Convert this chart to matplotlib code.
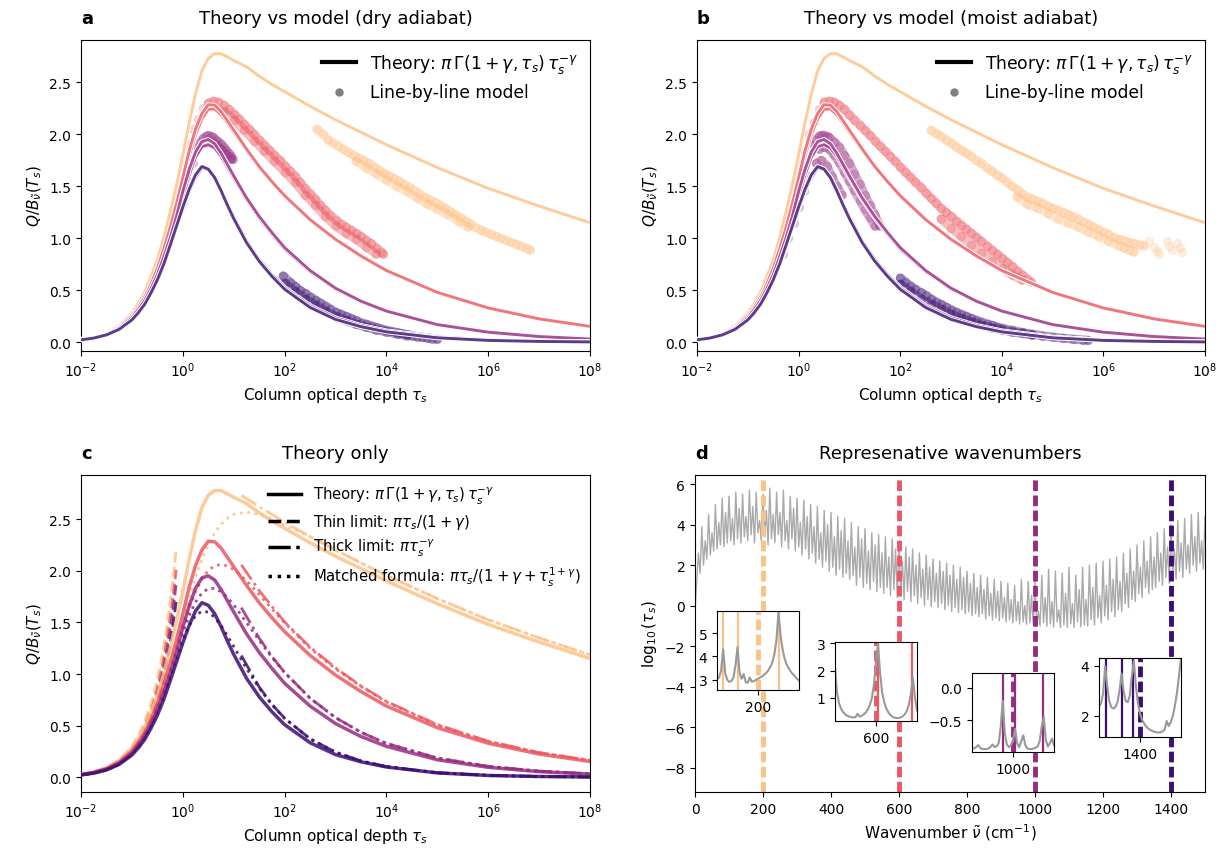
import numpy as np
import matplotlib
matplotlib.use("Agg")
import matplotlib.pyplot as plt
from matplotlib.lines import Line2D
import matplotlib.patheffects as pe

# ---------------- data ----------------
wavenumbers = [200, 600, 1000, 1400]

logtau = [-2, -1.75, -1.5, -1.25, -1, -0.875, -0.75, -0.625, -0.5, -0.375, -0.25, -0.125, 0,
          0.125, 0.25, 0.375, 0.5, 0.625, 0.75, 0.875, 1.0, 1.25, 1.5, 1.75, 2, 2.5, 3, 3.5,
          4, 5, 6, 7, 8]
theory_200 = [0.030, 0.0526, 0.092, 0.163, 0.28, 0.372, 0.48, 0.628, 0.79, 1.0, 1.25, 1.51,
              1.80, 2.11, 2.39, 2.61, 2.73, 2.775, 2.775, 2.745, 2.71, 2.65, 2.56, 2.48, 2.41,
              2.27, 2.14, 2.02, 1.90, 1.68, 1.48, 1.31, 1.15]
theory_600 = [0.027, 0.0477, 0.084, 0.148, 0.255, 0.337, 0.43, 0.558, 0.71, 0.894, 1.10, 1.33,
              1.58, 1.84, 2.05, 2.20, 2.285, 2.28, 2.22, 2.13, 2.04, 1.86, 1.69, 1.545, 1.41,
              1.18, 0.99, 0.83, 0.69, 0.48, 0.33, 0.225, 0.153]
theory_1000 = [0.025, 0.0444, 0.078, 0.1375, 0.235, 0.313, 0.40, 0.515, 0.65, 0.818, 1.0, 1.21,
               1.45, 1.66, 1.83, 1.93, 1.95, 1.91, 1.82, 1.71, 1.60, 1.39, 1.21, 1.055, 0.91,
               0.69, 0.52, 0.395, 0.30, 0.17, 0.097, 0.055, 0.031]
theory_1400 = [0.023, 0.0404, 0.071, 0.1248, 0.215, 0.2834, 0.365, 0.475, 0.60, 0.751, 0.93,
               1.115, 1.30, 1.47, 1.61, 1.69, 1.665, 1.585, 1.46, 1.32, 1.19, 0.96, 0.78, 0.635,
               0.51, 0.335, 0.22, 0.15, 0.10, 0.043, 0.018, 0.008, 0.0035]
# second set of theory curves visible in panels a and b
theory_600_b = [0.026, 0.046, 0.081, 0.143, 0.247, 0.326, 0.417, 0.541, 0.69, 0.868, 1.07, 1.29,
                1.54, 1.79, 2.00, 2.15, 2.24, 2.245, 2.19, 2.11, 2.02, 1.85, 1.685, 1.54, 1.405,
                1.175, 0.985, 0.825, 0.685, 0.477, 0.328, 0.224, 0.152]
theory_1000_b = [0.025, 0.043, 0.075, 0.132, 0.228, 0.303, 0.39, 0.502, 0.635, 0.80, 0.98, 1.18,
                 1.40, 1.61, 1.78, 1.88, 1.90, 1.87, 1.79, 1.685, 1.58, 1.375, 1.195, 1.04,
                 0.895, 0.678, 0.512, 0.39, 0.297, 0.168, 0.096, 0.054, 0.03]
theory_1400_b = [0.023, 0.040, 0.070, 0.123, 0.212, 0.28, 0.36, 0.468, 0.59, 0.738, 0.915, 1.10,
                 1.28, 1.45, 1.59, 1.675, 1.66, 1.585, 1.465, 1.33, 1.205, 0.975, 0.795, 0.65,
                 0.525, 0.35, 0.235, 0.162, 0.11, 0.05, 0.022, 0.01, 0.005]

logtau_thin = [-2, -1.75, -1.5, -1.25, -1, -0.8, -0.6, -0.5, -0.4, -0.3, -0.2, -0.13]
thin_200 = [0.0298, 0.0531, 0.0943, 0.1678, 0.2984, 0.4729, 0.7494, 0.9434, 1.1878, 1.4953,
            1.8825, 2.2117]
thin_600 = [0.0271, 0.0482, 0.0856, 0.1523, 0.2708, 0.4292, 0.6803, 0.8564, 1.0782, 1.3573,
            1.7089, 2.0077]
thin_1000 = [0.0252, 0.0449, 0.0798, 0.1419, 0.2523, 0.3999, 0.6338, 0.7979, 1.0046, 1.2647,
             1.5922, 1.8706]
thin_1400 = [0.0229, 0.0408, 0.0725, 0.1289, 0.2293, 0.3634, 0.576, 0.7251, 0.9129, 1.1493,
             1.447, 1.6999]

logtau_thick = [1.15, 1.5, 1.75, 2, 2.5, 3, 3.5, 4, 5, 6, 7, 8]
thick_200 = [2.73, 2.62, 2.545, 2.47, 2.33, 2.20, 2.075, 1.955, 1.73, 1.525, 1.35, 1.185]
thick_600 = [2.056, 1.808, 1.655, 1.5035, 1.26, 1.06, 0.885, 0.735, 0.51, 0.35, 0.24, 0.165]
thick_1000 = [1.642, 1.348, 1.17, 1.0166, 0.7667, 0.5782, 0.4361, 0.3289, 0.1872, 0.1065,
              0.0606, 0.0345]
thick_1400 = [1.179, 0.875, 0.7074, 0.5718, 0.3736, 0.2439, 0.1593, 0.104, 0.0444, 0.0189,
              0.0081, 0.0035]

matched_200 = [0.0296, 0.0523, 0.092, 0.1604, 0.2752, 0.3573, 0.4596, 0.5853, 0.7356, 0.91,
               1.105, 1.315, 1.530, 1.7405, 1.9353, 2.107, 2.2506, 2.3636, 2.4484, 2.5067,
               2.544, 2.567, 2.545, 2.50, 2.44, 2.33, 2.20, 2.075, 1.955, 1.73, 1.525, 1.35, 1.185]
matched_600 = [0.027, 0.0478, 0.0843, 0.1478, 0.2556, 0.3335, 0.4314, 0.5525, 0.6981, 0.8674,
               1.056, 1.2556, 1.4544, 1.6388, 1.7962, 1.9186, 2.0021, 2.0476, 2.0605, 2.0462,
               2.012, 1.904, 1.770, 1.631, 1.4956, 1.25, 1.05, 0.88, 0.73, 0.505, 0.347, 0.239,
               0.164]
matched_1000 = [0.0252, 0.0446, 0.0789, 0.1388, 0.2413, 0.316, 0.4103, 0.5277, 0.6696, 0.8351,
                1.0191, 1.2119, 1.3994, 1.5656, 1.6966, 1.7842, 1.8269, 1.8283, 1.797, 1.741,
                1.6689, 1.500, 1.3254, 1.1614, 1.0124, 0.7658, 0.5775, 0.436, 0.3288, 0.1872,
                0.1065, 0.0606, 0.0345]
matched_1400 = [0.0229, 0.0407, 0.072, 0.1271, 0.2224, 0.2924, 0.3816, 0.4936, 0.6301, 0.7903,
                0.9683, 1.1524, 1.3256, 1.4682, 1.5646, 1.6075, 1.5993, 1.5487, 1.4693, 1.3716,
                1.2663, 1.0549, 0.8648, 0.7035, 0.5702, 0.373, 0.2439, 0.1593, 0.104, 0.0444,
                0.0189, 0.0081, 0.0035]

# line-by-line model points, panel a (dry adiabat): strands of (log10 tau, Q)
dry_200_main_L = [2.63, 2.75, 2.85, 2.95, 3.05, 3.15, 3.25, 3.35, 3.45, 3.55, 3.65, 3.75, 3.85,
                  3.95, 4.05, 4.15, 4.25, 4.35, 4.45, 4.55, 4.65, 4.75, 4.85, 4.95, 5.05, 5.15,
                  5.25, 5.35, 5.45, 5.55, 5.65, 5.75, 5.85, 5.95, 6.05, 6.15, 6.25, 6.35, 6.45,
                  6.55, 6.65, 6.75, 6.82]
dry_200_main_Q = [2.05, 2.00, 1.95, 1.92, 1.89, 1.86, 1.83, 1.80, 1.775, 1.75, 1.72, 1.69, 1.66,
                  1.63, 1.60, 1.575, 1.55, 1.52, 1.49, 1.46, 1.43, 1.40, 1.37, 1.345, 1.32, 1.29,
                  1.26, 1.23, 1.20, 1.17, 1.14, 1.105, 1.08, 1.06, 1.04, 1.02, 1.00, 0.98, 0.96,
                  0.945, 0.925, 0.905, 0.89]
dry_200_low_L = [3.4, 3.6, 3.8, 4.0, 4.2, 4.4, 4.6, 4.8, 5.0, 5.2, 5.4, 5.6]
dry_200_low_Q = [1.74, 1.68, 1.62, 1.56, 1.50, 1.45, 1.39, 1.33, 1.28, 1.23, 1.17, 1.11]
dry_600_rise_L = [0.0, 0.1, 0.2, 0.3, 0.4]
dry_600_rise_Q = [1.75, 1.9, 2.05, 2.15, 2.25]
dry_600_main_L = [0.5, 0.6, 0.7, 0.8, 0.9, 1.0, 1.1, 1.2, 1.3, 1.4, 1.5, 1.6, 1.7, 1.8, 1.9, 2.0,
                  2.1, 2.2, 2.3, 2.4, 2.5, 2.6, 2.7, 2.8, 2.9, 3.0, 3.1, 3.2, 3.3, 3.4, 3.5, 3.6,
                  3.7, 3.8, 3.9, 3.94]
dry_600_main_Q = [2.30, 2.32, 2.31, 2.28, 2.24, 2.20, 2.15, 2.10, 2.05, 2.0, 1.95, 1.90, 1.85,
                  1.80, 1.75, 1.70, 1.65, 1.60, 1.54, 1.48, 1.43, 1.38, 1.32, 1.27, 1.22, 1.18,
                  1.14, 1.11, 1.08, 1.05, 1.02, 0.98, 0.95, 0.91, 0.87, 0.85]
dry_600_low_L = [0.8, 1.0, 1.2, 1.4, 1.6, 1.8, 2.0, 2.2, 2.4, 2.6, 2.8, 3.0, 3.2, 3.4, 3.6, 3.8]
dry_600_low_Q = [2.22, 2.14, 2.04, 1.94, 1.84, 1.74, 1.64, 1.54, 1.42, 1.32, 1.21, 1.12, 1.05,
                 0.99, 0.92, 0.85]
dry_1000_rise_L = [0.0, 0.1, 0.2]
dry_1000_rise_Q = [1.35, 1.55, 1.72]
dry_1000_main_L = [0.3, 0.35, 0.4, 0.45, 0.5, 0.55, 0.6, 0.65, 0.7, 0.75, 0.8, 0.85, 0.9, 0.95,
                   0.98]
dry_1000_main_Q = [1.88, 1.93, 1.96, 1.98, 1.99, 1.98, 1.97, 1.95, 1.93, 1.91, 1.88, 1.85, 1.82,
                   1.79, 1.76]
dry_1000_low_L = [0.45, 0.55, 0.65, 0.75, 0.85, 0.95]
dry_1000_low_Q = [1.92, 1.93, 1.90, 1.86, 1.81, 1.76]
dry_1400_main_L = [1.97, 2.1, 2.2, 2.3, 2.4, 2.5, 2.6, 2.7, 2.8, 2.9, 3.0, 3.1, 3.2, 3.3, 3.4,
                   3.5, 3.6, 3.7, 3.8, 3.9, 4.0, 4.1, 4.2, 4.3, 4.4, 4.5, 4.6, 4.7, 4.8, 4.9, 5.0]
dry_1400_main_Q = [0.64, 0.58, 0.54, 0.50, 0.47, 0.44, 0.41, 0.38, 0.35, 0.32, 0.29, 0.27, 0.25,
                   0.23, 0.21, 0.19, 0.175, 0.16, 0.145, 0.13, 0.115, 0.105, 0.095, 0.085, 0.075,
                   0.065, 0.055, 0.048, 0.042, 0.036, 0.03]
dry_1400_low_L = [2.0, 2.2, 2.4, 2.6, 2.8, 3.0, 3.2, 3.4, 3.6, 3.8, 4.0, 4.2, 4.4]
dry_1400_low_Q = [0.57, 0.49, 0.42, 0.36, 0.30, 0.25, 0.21, 0.175, 0.145, 0.12, 0.10, 0.08, 0.065]

# line-by-line model points, panel b (moist adiabat)
moist_200_main_L = [2.6, 2.7, 2.8, 2.9, 3.0, 3.1, 3.2, 3.3, 3.4, 3.5, 3.6, 3.7, 3.8, 3.9, 4.0,
                    4.1, 4.2, 4.3, 4.4, 4.5, 4.6, 4.7, 4.8, 4.9, 5.0, 5.1, 5.2, 5.3, 5.4, 5.5,
                    5.6, 5.7, 5.8, 5.9, 6.0, 6.1, 6.2, 6.3, 6.4, 6.5, 6.6, 6.7, 6.8]
moist_200_main_Q = [2.04, 2.01, 1.98, 1.95, 1.92, 1.88, 1.85, 1.82, 1.79, 1.75, 1.72, 1.68,
                    1.65, 1.61, 1.58, 1.54, 1.5, 1.47, 1.43, 1.40, 1.38, 1.36, 1.34, 1.31, 1.29,
                    1.27, 1.25, 1.23, 1.21, 1.19, 1.16, 1.14, 1.11, 1.09, 1.06, 1.04, 1.01, 0.99,
                    0.98, 0.96, 0.95, 0.94, 0.93]
moist_200_low_L = [4.3, 4.5, 4.7, 4.9, 5.1, 5.3, 5.5, 5.7, 5.9, 6.1, 6.3, 6.4, 6.5, 6.6]
moist_200_low_Q = [1.40, 1.33, 1.29, 1.24, 1.19, 1.15, 1.11, 1.06, 1.02, 0.97, 0.93, 0.91,
                   0.89, 0.87]
moist_200_frag_L = [6.9, 7.0, 7.05, 7.1, 7.25, 7.3, 7.35, 7.45, 7.5, 7.55]
moist_200_frag_Q = [0.97, 0.92, 0.88, 0.85, 0.97, 0.93, 0.89, 0.95, 0.91, 0.87]
moist_600_rise_L = [0.0, 0.1, 0.2, 0.3, 0.4]
moist_600_rise_Q = [1.7, 1.85, 2.0, 2.12, 2.24]
moist_600_main_L = [0.5, 0.6, 0.7, 0.8, 0.9, 1.0, 1.1, 1.2, 1.3, 1.4, 1.5, 1.6, 1.7, 1.8, 1.9,
                    2.0, 2.1, 2.2, 2.3, 2.4, 2.5, 2.6, 2.7, 2.8, 2.9, 3.0, 3.1, 3.2, 3.3, 3.4,
                    3.5, 3.6, 3.7, 3.8, 3.9, 4.0, 4.1, 4.2, 4.3, 4.4, 4.5, 4.58]
moist_600_main_Q = [2.31, 2.32, 2.31, 2.28, 2.24, 2.19, 2.14, 2.09, 2.04, 1.99, 1.94, 1.89,
                    1.84, 1.79, 1.74, 1.69, 1.64, 1.59, 1.54, 1.49, 1.44, 1.39, 1.34, 1.29, 1.25,
                    1.21, 1.17, 1.13, 1.09, 1.05, 1.01, 0.97, 0.93, 0.89, 0.85, 0.81, 0.77, 0.73,
                    0.69, 0.65, 0.61, 0.58]
moist_600_low_L = [2.8, 3.0, 3.2, 3.4, 3.6, 3.8, 4.0, 4.2, 4.4]
moist_600_low_Q = [1.19, 1.10, 1.02, 0.94, 0.86, 0.78, 0.71, 0.65, 0.60]
moist_1000_rise_L = [-0.3, -0.2, -0.1, 0.0, 0.1, 0.2]
moist_1000_rise_Q = [0.85, 1.0, 1.15, 1.3, 1.45, 1.6]
moist_1000_main_L = [0.3, 0.35, 0.4, 0.45, 0.5, 0.55, 0.6, 0.7, 0.8, 0.9, 1.0, 1.1, 1.2, 1.3,
                     1.4, 1.5, 1.6]
moist_1000_main_Q = [1.9, 1.95, 1.98, 1.99, 1.99, 1.98, 1.97, 1.93, 1.88, 1.80, 1.72, 1.62,
                     1.52, 1.42, 1.32, 1.22, 1.12]
moist_1000_low_L = [0.4, 0.5, 0.6, 0.7, 0.8, 0.9, 1.0, 1.1, 1.2, 1.3, 1.4, 1.5]
moist_1000_low_Q = [1.86, 1.88, 1.86, 1.80, 1.73, 1.64, 1.55, 1.46, 1.37, 1.28, 1.2, 1.12]
moist_1000_core_L = [0.35, 0.45, 0.55, 0.65, 0.75, 0.85]
moist_1000_core_Q = [1.72, 1.75, 1.70, 1.60, 1.50, 1.42]
moist_1400_main_L = [2.0, 2.1, 2.2, 2.3, 2.4, 2.5, 2.6, 2.7, 2.8, 2.9, 3.0, 3.1, 3.2, 3.3, 3.4,
                     3.5, 3.6, 3.7, 3.8, 3.9, 4.0, 4.2, 4.4, 4.6, 4.8, 5.0, 5.2, 5.4, 5.6, 5.7]
moist_1400_main_Q = [0.62, 0.58, 0.545, 0.51, 0.48, 0.45, 0.42, 0.39, 0.365, 0.34, 0.315, 0.29,
                     0.27, 0.25, 0.23, 0.21, 0.195, 0.18, 0.165, 0.15, 0.135, 0.115, 0.095,
                     0.078, 0.063, 0.05, 0.04, 0.03, 0.022, 0.02]
moist_1400_low_L = [2.0, 2.2, 2.4, 2.6, 2.8, 3.0, 3.2, 3.4, 3.6, 3.8, 4.0, 4.2, 4.4, 4.6]
moist_1400_low_Q = [0.56, 0.49, 0.42, 0.37, 0.32, 0.27, 0.23, 0.195, 0.165, 0.14, 0.12, 0.10,
                    0.085, 0.07]

# spectrum log10(tau_s), every 5 cm-1 from 0 to 1500
spec_nu_step = 5
spectrum = [
    -0.3, 1.2, 2.6, 1.6, 3.9, 2.0, 3.2, 2.3, 4.5, 2.5,
    3.6, 2.7, 5.0, 2.8, 4.1, 3.0, 5.3, 2.9, 4.6, 3.1,
    5.4, 3.2, 4.3, 3.0, 5.6, 3.3, 4.8, 3.1, 5.5, 3.4,
    4.4, 3.2, 5.7, 3.5, 4.9, 3.1, 5.6, 3.6, 4.2, 3.2,
    5.5, 3.4, 4.7, 3.0, 5.8, 3.3, 4.5, 3.1, 5.6, 3.5,
    4.6, 2.9, 5.7, 3.2, 4.2, 2.8, 5.4, 3.3, 4.8, 2.7,
    5.3, 2.9, 4.1, 2.5, 5.2, 2.8, 4.4, 2.3, 5.0, 2.6,
    3.9, 2.1, 4.9, 2.3, 3.6, 1.9, 4.7, 2.2, 4.0, 1.7,
    4.6, 1.9, 3.4, 1.5, 4.4, 1.8, 3.7, 1.4, 4.3, 1.6,
    3.2, 1.3, 4.1, 1.5, 2.9, 1.0, 3.9, 1.4, 3.3, 0.9,
    3.8, 1.1, 2.7, 0.8, 3.6, 1.2, 3.0, 0.7, 3.5, 0.9,
    2.6, 0.6, 3.4, 0.9, 2.4, 0.5, 3.3, 0.8, 2.8, 0.4,
    3.1, 0.6, 2.2, 0.3, 2.9, 0.7, 2.4, 0.2, 2.8, 0.5,
    2.0, 0.1, 2.6, 0.4, 1.8, 0.0, 2.5, 0.3, 1.9, -0.05,
    2.3, 0.2, 1.6, -0.1, 2.2, 0.1, 1.7, -0.2, 2.1, 0.0,
    1.5, -0.3, 2.0, -0.1, 1.3, -0.35, 1.9, -0.2, 1.4, -0.4,
    1.7, -0.3, 1.1, -0.5, 1.6, -0.4, 0.9, -0.55, 1.5, -0.4,
    0.8, -0.65, 1.4, -0.5, 0.6, -0.7, 1.3, -0.6, 0.7, -0.75,
    1.2, -0.6, 0.4, -0.8, 1.1, -0.7, 0.3, -0.85, 1.0, -0.75,
    0.2, -0.9, 1.3, -0.8, 0.0, -0.92, 1.2, -0.85, 0.5, -0.95,
    1.3, -0.9, -0.3, -1.0, 1.5, -0.85, 0.4, -1.02, 1.8, -0.9,
    0.2, -1.05, 1.7, -0.8, -0.2, -1.08, 1.6, -0.95, 0.6, -1.07,
    1.9, -0.9, 0.1, -1.08, 1.5, -0.8, 0.8, -1.05, 1.9, -0.95,
    0.3, -1.0, 2.0, -0.7, 0.9, -0.95, 2.1, -0.6, 0.5, -0.85,
    2.2, -0.5, 1.0, -0.7, 2.3, -0.3, 1.3, -0.55, 2.4, -0.2,
    1.2, -0.3, 2.6, 0.1, 1.6, -0.1, 2.8, 0.3, 1.7, 0.2,
    3.0, 0.6, 1.9, 0.4, 3.2, 0.9, 2.2, 0.6, 3.4, 0.8,
    2.4, 0.9, 3.6, 1.2, 2.6, 1.0, 3.8, 1.4, 2.9, 1.1,
    4.0, 1.5, 2.8, 1.3, 4.2, 1.7, 3.1, 1.4, 4.3, 1.8,
    3.0, 1.6, 4.5, 2.0, 3.4, 1.7, 4.6, 2.1, 3.2, 1.8, 4.4]

# insets: log10(tau) every 0.5 cm-1 over +-10 cm-1 around each wavenumber
inset_200 = [3.05, 3.1, 3.4, 4.3, 3.3, 3.0, 2.92, 2.95, 3.1, 3.6,
             4.4, 3.3, 3.05, 3.25, 2.9, 2.88, 3.1, 2.92, 2.95, 3.0,
             3.05, 3.1, 3.15, 3.22, 3.3, 3.4, 3.55, 3.75, 4.1, 4.7,
             5.9, 4.9, 4.3, 3.9, 3.65, 3.5, 3.35, 3.25, 3.15, 3.05, 2.98]
inset_600 = [2.1, 1.2, 0.8, 0.6, 0.48, 0.4, 0.35, 0.32, 0.3, 0.29,
             0.3, 0.42, 0.32, 0.35, 0.4, 0.47, 0.58, 0.75, 1.0, 1.5,
             2.3, 2.95, 1.9, 1.2, 0.85, 0.62, 0.48, 0.38, 0.32, 0.28,
             0.27, 0.27, 0.29, 0.33, 0.4, 0.52, 0.75, 1.15, 1.75, 1.0, 0.55]
inset_1000 = [-0.92, -0.93, -0.91, -0.88, -0.92, -0.94, -0.94, -0.94, -0.93, -0.91,
              -0.87, -0.91, -0.9, -0.85, -0.6, -0.2, -0.7, -0.87, -0.91, -0.88,
              -0.8, -0.63, -0.85, -0.91, -0.82, -0.73, -0.88, -0.93, -0.94, -0.94,
              -0.93, -0.92, -0.9, -0.82, -0.6, -0.45, -0.8, -0.9, -0.85, -0.78, -0.88]
inset_1400 = [2.4, 2.5, 2.9, 4.0, 3.2, 2.6, 2.35, 2.3, 2.35, 2.55,
              3.0, 3.7, 3.0, 2.6, 2.55, 2.8, 3.6, 4.2, 3.2, 2.5,
              2.1, 1.85, 1.7, 1.58, 1.5, 1.44, 1.4, 1.37, 1.35, 1.34,
              1.35, 1.38, 1.45, 1.8, 1.6, 1.75, 2.0, 2.4, 2.9, 3.6, 4.3]
inset_lines = {200: [191.5, 195.0, 205.0], 600: [600.6, 608.8],
               1000: [997.5, 1000.6, 1007.4], 1400: [1391.6, 1395.5, 1398.4]}
inset_ylims = {200: (2.57, 5.94), 600: (0.16, 3.04), 1000: (-0.985, 0.227), 1400: (1.16, 4.32)}
inset_yticks = {200: [3, 4, 5], 600: [1, 2, 3], 1000: [-0.5, 0.0], 1400: [2, 4]}
inset_boxes = {200: (717, 612), 600: (835, 643), 1000: (972, 674), 1400: (1099, 659)}

# ---------------- styling ----------------
W, H = 1223, 853
colors = dict(zip(wavenumbers, plt.cm.magma([0.87, 0.647, 0.423, 0.2])))
theory = {200: theory_200, 600: theory_600, 1000: theory_1000, 1400: theory_1400}
theory_b = {600: theory_600_b, 1000: theory_1000_b, 1400: theory_1400_b}
thin = {200: thin_200, 600: thin_600, 1000: thin_1000, 1400: thin_1400}
thick = {200: thick_200, 600: thick_600, 1000: thick_1000, 1400: thick_1400}
matched = {200: matched_200, 600: matched_600, 1000: matched_1000, 1400: matched_1400}

# (L, Q, draw_band) strands per wavenumber
dry = {
    200: [(dry_200_main_L, dry_200_main_Q, True), (dry_200_low_L, dry_200_low_Q, True)],
    600: [(dry_600_rise_L, dry_600_rise_Q, False), (dry_600_main_L, dry_600_main_Q, True),
          (dry_600_low_L, dry_600_low_Q, True)],
    1000: [(dry_1000_rise_L, dry_1000_rise_Q, False), (dry_1000_main_L, dry_1000_main_Q, True),
           (dry_1000_low_L, dry_1000_low_Q, True)],
    1400: [(dry_1400_main_L, dry_1400_main_Q, True), (dry_1400_low_L, dry_1400_low_Q, True)],
}
moist = {
    200: [(moist_200_main_L, moist_200_main_Q, True), (moist_200_low_L, moist_200_low_Q, True),
          (moist_200_frag_L, moist_200_frag_Q, False)],
    600: [(moist_600_rise_L, moist_600_rise_Q, False), (moist_600_main_L, moist_600_main_Q, True),
          (moist_600_low_L, moist_600_low_Q, True)],
    1000: [(moist_1000_rise_L, moist_1000_rise_Q, False),
           (moist_1000_main_L, moist_1000_main_Q, True),
           (moist_1000_low_L, moist_1000_low_Q, True),
           (moist_1000_core_L, moist_1000_core_Q, True)],
    1400: [(moist_1400_main_L, moist_1400_main_Q, True),
           (moist_1400_low_L, moist_1400_low_Q, True)],
}

plt.rcParams['font.family'] = ['DejaVu Sans']
plt.rcParams['xtick.labelsize'] = 10
plt.rcParams['ytick.labelsize'] = 10


def tau(L):
    return np.power(10.0, np.asarray(L, dtype=float))


def frac(x0, y0, x1, y1):
    return [x0 / W, 1 - y1 / H, (x1 - x0) / W, (y1 - y0) / H]


fig = plt.figure(figsize=(W / 100, H / 100), dpi=100)
axA = fig.add_axes(frac(81, 41, 590, 352))
axB = fig.add_axes(frac(697, 41, 1205, 352))
axC = fig.add_axes(frac(81, 476, 590, 793))
axD = fig.add_axes(frac(695, 476, 1205, 793))


def style_tau_axis(ax, ylim):
    ax.set_xscale('log')
    ax.set_xlim(1e-2, 1e8)
    ax.set_ylim(*ylim)
    ax.set_xticks([1e-2, 1e0, 1e2, 1e4, 1e6, 1e8])
    ax.minorticks_off()
    ax.set_yticks([0.0, 0.5, 1.0, 1.5, 2.0, 2.5])
    ax.set_xlabel(r'Column optical depth $\tau_s$', fontsize=11)
    ax.set_ylabel(r'$Q/B_{\tilde{\nu}}(T_s)$', fontsize=11)


def titles(ax, letter, text):
    ax.set_title(text, fontsize=13, pad=12)
    ax.set_title(letter, loc='left', fontsize=13, fontweight='bold', pad=12)


stroke = [pe.Stroke(linewidth=3.5, foreground='white'), pe.Normal()]

for ax, pts, letter, title in [(axA, dry, 'a', 'Theory vs model (dry adiabat)'),
                               (axB, moist, 'b', 'Theory vs model (moist adiabat)')]:
    for wn in wavenumbers:
        for L, Q, band in pts[wn]:
            if band:
                ax.plot(tau(L), Q, color=colors[wn], lw=6.5, alpha=0.4,
                        solid_capstyle='round', zorder=2)
            ax.scatter(tau(L), Q, s=36, color=colors[wn], alpha=0.25, linewidths=0.6, zorder=2)
    for wn in wavenumbers:
        if wn in theory_b:
            ax.plot(tau(logtau), theory_b[wn], color=colors[wn], lw=2.1, alpha=0.82,
                    path_effects=stroke, zorder=3)
        ax.plot(tau(logtau), theory[wn], color=colors[wn], lw=2.1, alpha=0.82,
                path_effects=stroke, zorder=3)
    style_tau_axis(ax, (-0.084, 2.907))
    titles(ax, letter, title)
    handles = [Line2D([], [], color='k', lw=3),
               Line2D([], [], color='gray', marker='o', ls='none', markersize=5)]
    ax.legend(handles, [r'Theory: $\pi\,\Gamma(1+\gamma,\tau_s)\,\tau_s^{-\gamma}$',
                        'Line-by-line model'],
              loc='upper right', frameon=False, fontsize=12.3, handlelength=2.0,
              borderaxespad=0.3)

# panel c
for wn in wavenumbers:
    c = colors[wn]
    axC.plot(tau(logtau), theory[wn], color=c, lw=2.5, alpha=0.85, zorder=3)
    axC.plot(tau(logtau_thin), thin[wn], color=c, lw=2.0, ls='--', alpha=0.85, zorder=2)
    axC.plot(tau(logtau_thick), thick[wn], color=c, lw=2.0, ls='-.', alpha=0.85, zorder=2)
    axC.plot(tau(logtau), matched[wn], color=c, lw=2.0, ls=':', alpha=0.85, zorder=2)
style_tau_axis(axC, (-0.142, 2.926))
titles(axC, 'c', 'Theory only')
handles = [Line2D([], [], color='k', lw=2.5, ls='-'),
           Line2D([], [], color='k', lw=2.5, ls='--'),
           Line2D([], [], color='k', lw=2.5, ls='-.'),
           Line2D([], [], color='k', lw=2.5, ls=':')]
axC.legend(handles, [r'Theory: $\pi\,\Gamma(1+\gamma,\tau_s)\,\tau_s^{-\gamma}$',
                     r'Thin limit: $\pi\tau_s/(1+\gamma)$',
                     r'Thick limit: $\pi\tau_s^{-\gamma}$',
                     r'Matched formula: $\pi\tau_s/(1+\gamma+\tau_s^{1+\gamma})$'],
           loc='upper right', frameon=False, fontsize=10.7, handlelength=2.2,
           borderaxespad=0.25, labelspacing=0.42)

# panel d
nu = np.arange(len(spectrum)) * spec_nu_step
axD.plot(nu, spectrum, color='#aaaaaa', lw=1.0, zorder=1)
for wn in wavenumbers:
    axD.axvline(wn, color=colors[wn], lw=3.5, dashes=(2.2, 0.9), zorder=2)
axD.set_xlim(0, 1500)
axD.set_ylim(-9.2, 6.45)
axD.set_xticks([0, 200, 400, 600, 800, 1000, 1200, 1400])
axD.set_yticks([-8, -6, -4, -2, 0, 2, 4, 6])
axD.set_xlabel(r'Wavenumber $\tilde{\nu}$ (cm$^{-1}$)', fontsize=11)
axD.set_ylabel(r'$\log_{10}(\tau_s)$', fontsize=11)
titles(axD, 'd', 'Represenative wavenumbers')

inset_data = {200: inset_200, 600: inset_600, 1000: inset_1000, 1400: inset_1400}
for wn in wavenumbers:
    x0, y0 = inset_boxes[wn]
    ax_in = fig.add_axes(frac(x0, y0, x0 + 82, y0 + 79), zorder=5)
    vals = inset_data[wn]
    xs = wn - 10 + 0.5 * np.arange(len(vals))
    for xl in inset_lines[wn]:
        ax_in.axvline(xl, color=colors[wn], lw=1.6, zorder=1)
    ax_in.axvline(wn, color=colors[wn], lw=3.5, dashes=(2.2, 0.9), zorder=1)
    ax_in.plot(xs, vals, color='#999999', lw=1.5, zorder=2)
    ax_in.set_xlim(wn - 10, wn + 10)
    ax_in.set_ylim(*inset_ylims[wn])
    ax_in.set_xticks([wn])
    ax_in.set_yticks(inset_yticks[wn])
    ax_in.tick_params(labelsize=10)

fig.savefig('out.png', dpi=100)
